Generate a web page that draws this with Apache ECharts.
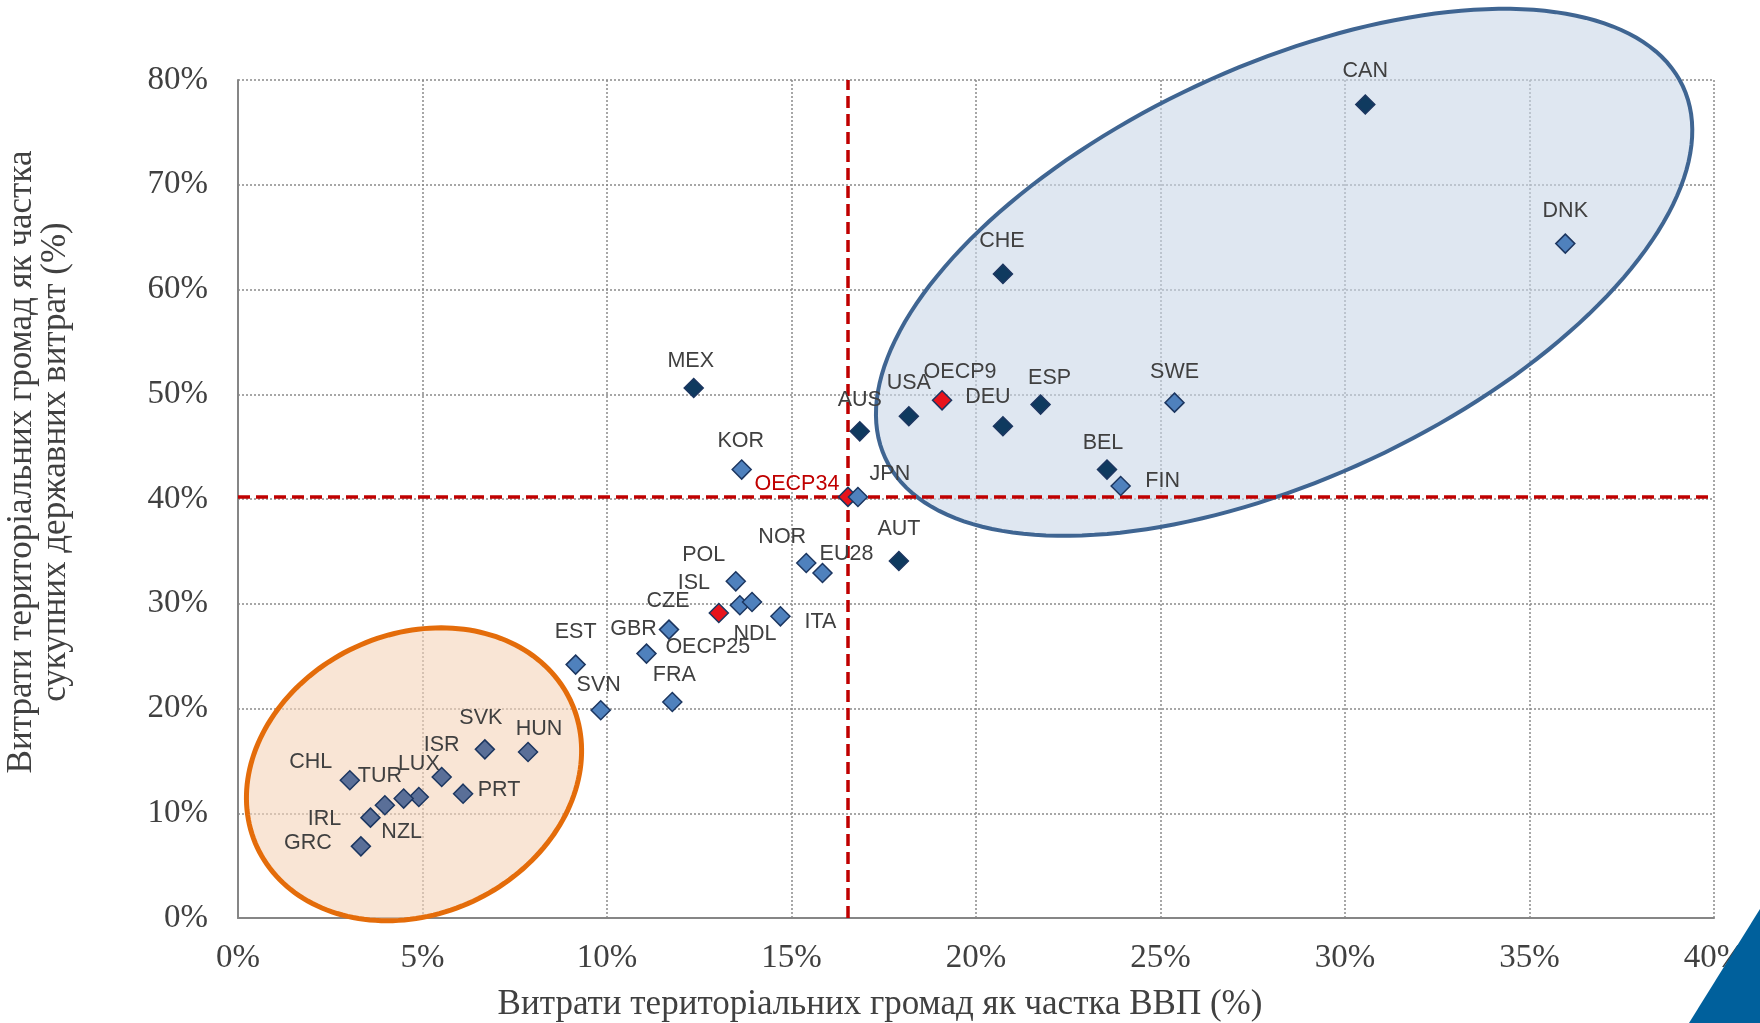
<!DOCTYPE html>
<html>
<head>
<meta charset="utf-8">
<script src="https://cdn.jsdelivr.net/npm/echarts@6/dist/echarts.min.js"></script>
<style>
html,body{margin:0;padding:0;background:#fff;}
#chart{width:1760px;height:1023px;}
</style>
</head>
<body>
<div id="chart"></div>
<script>
// ---- data ----
const countries = ['CAN','DNK','CHE','MEX','AUS','USA','OECP9','DEU','ESP','SWE','BEL','FIN','KOR','OECP34','JPN','AUT','NOR','EU28','POL','ISL','NDL','OECP25','CZE','GBR','ITA','FRA','EST','SVN','CHL','TUR','LUX','NZL','IRL','GRC','ISR','PRT','SVK','HUN'];
const gdpShare = [30.55,35.97,20.73,12.35,16.85,18.18,19.08,20.73,21.75,25.38,23.55,23.92,13.65,16.53,16.80,17.91,15.40,15.84,13.49,13.60,13.93,13.03,11.68,11.07,14.70,11.77,9.15,9.83,3.03,3.98,4.90,4.49,3.59,3.33,5.52,6.10,6.69,7.86];
const spendShare = [77.66,64.38,61.49,50.6,46.46,47.9,49.42,46.94,49.01,49.2,42.81,41.24,42.81,40.2,40.19,34.08,33.89,32.94,32.14,29.86,30.17,29.12,27.53,25.24,28.8,20.62,24.19,19.83,13.15,10.76,11.55,11.4,9.58,6.84,13.46,11.87,16.1,15.85];
const groups = ['fed','uni','fed','fed','fed','fed','avg','fed','fed','uni','fed','uni','uni','avg','uni','fed','uni','uni','uni','uni','uni','avg','uni','uni','uni','uni','uni','uni','low','low','low','low','low','low','low','low','low','low'];
const refX = 16.53;   // OECP34 GDP share
const refY = 40.2;    // OECP34 spending share
const xTicks = [0,5,10,15,20,25,30,35,40];
const yTicks = [0,10,20,30,40,50,60,70,80];
const ellipseCenters = { high: [28.35, 61.64], low: [4.77, 13.72] };
const xTitle = 'Витрати територіальних громад як частка ВВП (%)';
const yTitle = 'Витрати територіальних громад як частка\nсукупних державних витрат (%)';

// ---- styles ----
const groupColors = { fed:'#0F3A5F', uni:'#4F81BD', low:'#5A6F98', avg:'#E8141C' };
const labelOffsets = {
  CAN:[0,-33], DNK:[0,-33], CHE:[-1,-33], MEX:[-3,-27], AUS:[0,-31], USA:[0,-33], OECP9:[18,-28],
  DEU:[-15,-29], ESP:[9,-27], SWE:[0,-31], BEL:[-4,-26], FIN:[42,-5], KOR:[-1,-28], OECP34:[-51,-13],
  JPN:[32,-23], AUT:[0,-32], NOR:[-24,-26], EU28:[24,-19], POL:[-32,-26], ISL:[-46,-22], NDL:[3,32],
  OECP25:[-11,34], CZE:[-1,-29], GBR:[-13,-25], ITA:[40,6], FRA:[2,-27], EST:[0,-33], SVN:[-2,-25],
  CHL:[-39,-18], TUR:[-5,-29], LUX:[0,-33], NZL:[-2,33], IRL:[-46,1], GRC:[-53,-3], ISR:[0,-32],
  PRT:[36,-4], SVK:[-4,-31], HUN:[11,-23]
};
const ellipseStyles = {
  high: { rx: 440, ry: 206, rot: 25, fill: 'rgba(202,215,232,0.6)', stroke: '#3F6592', lw: 4 },
  low:  { rx: 173, ry: 140, rot: 25, fill: 'rgba(245,212,185,0.6)', stroke: '#E46C0A', lw: 5 }
};

function ellipseSeries(key) {
  const st = ellipseStyles[key];
  return {
    type: 'custom',
    z: 1,
    clip: false,
    silent: true,
    data: [ellipseCenters[key]],
    renderItem: function (params, api) {
      const c = api.coord([api.value(0), api.value(1)]);
      const pts = [];
      const t = -st.rot * Math.PI / 180;
      for (let i = 0; i < 180; i++) {
        const a = i / 180 * Math.PI * 2;
        const ex = st.rx * Math.cos(a), ey = st.ry * Math.sin(a);
        pts.push([c[0] + ex * Math.cos(t) - ey * Math.sin(t), c[1] + ex * Math.sin(t) + ey * Math.cos(t)]);
      }
      return { type: 'polygon', shape: { points: pts }, style: { fill: st.fill, stroke: st.stroke, lineWidth: st.lw } };
    }
  };
}

const pointData = countries.map((name, i) => ({
  name: name,
  value: [gdpShare[i], spendShare[i]],
  itemStyle: { color: groupColors[groups[i]] },
  label: { color: name === 'OECP34' ? '#C00000' : '#404040' }
}));

const serif = 'Liberation Serif';
const chart = echarts.init(document.getElementById('chart'), null, { renderer: 'canvas' });
chart.setOption({
  backgroundColor: '#ffffff',
  animation: false,
  grid: { left: 238, right: 46, top: 80, bottom: 105, containLabel: false },
  xAxis: {
    type: 'value', min: xTicks[0], max: xTicks[xTicks.length - 1], interval: 5,
    axisLine: { show: true, lineStyle: { color: '#868686', width: 2 } },
    axisTick: { show: false },
    axisLabel: { formatter: '{value}%', margin: 24, color: '#404040', fontFamily: serif, fontSize: 33 },
    splitLine: { show: true, lineStyle: { color: '#8a8a8a', width: 1.5, type: [2, 2] } }
  },
  yAxis: {
    type: 'value', min: yTicks[0], max: yTicks[yTicks.length - 1], interval: 10,
    axisLine: { show: true, lineStyle: { color: '#868686', width: 2 } },
    axisTick: { show: false },
    axisLabel: { formatter: '{value}%', margin: 30, color: '#404040', fontFamily: serif, fontSize: 33 },
    splitLine: { show: true, lineStyle: { color: '#8a8a8a', width: 1.5, type: [2, 2] } }
  },
  series: [
    ellipseSeries('high'),
    ellipseSeries('low'),
    {
      type: 'scatter',
      z: 3,
      symbol: 'diamond',
      symbolSize: 19,
      itemStyle: { borderColor: '#1C3660', borderWidth: 1.5, opacity: 1 },
      label: {
        show: true, position: 'inside', formatter: '{b}',
        fontFamily: 'Liberation Sans', fontSize: 21.5, color: '#404040'
      },
      labelLayout: function (p) {
        const o = labelOffsets[countries[p.dataIndex]] || [0, -30];
        return { dx: o[0], dy: o[1], hideOverlap: false };
      },
      markLine: {
        silent: true, symbol: 'none', z: 2,
        label: { show: false },
        lineStyle: { color: '#C00000', width: 3.5, type: [12, 6] },
        data: [{ xAxis: refX }, { yAxis: refY }]
      },
      data: pointData
    }
  ],
  graphic: [
    {
      type: 'text', x: 880, y: 1005, z: 10,
      style: { text: xTitle, textAlign: 'center', textVerticalAlign: 'middle', fontFamily: serif, fontSize: 35, fill: '#404040' }
    },
    {
      type: 'text', x: 39, y: 462, rotation: Math.PI / 2, z: 10,
      style: { text: yTitle, textAlign: 'center', textVerticalAlign: 'middle', fontFamily: serif, fontSize: 35, lineHeight: 34, fill: '#404040' }
    },
    {
      type: 'polygon', z: 10,
      shape: { points: [[1760, 909], [1689, 1023], [1760, 1023]] },
      style: { fill: '#00609C' }
    }
  ]
});
</script>
</body>
</html>
